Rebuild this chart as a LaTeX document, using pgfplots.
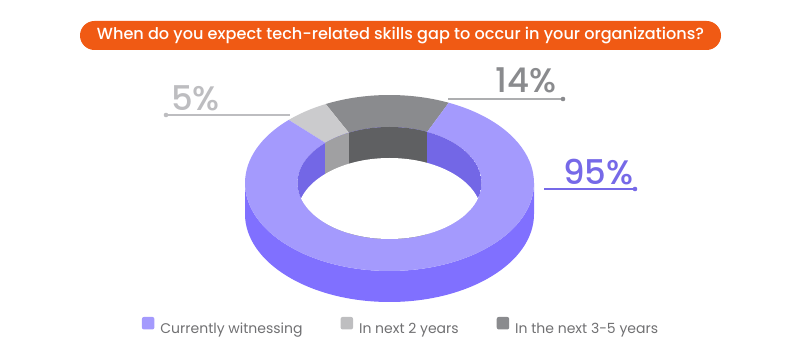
\documentclass[border=0pt]{standalone}
\usepackage{pgfplots}
\pgfplotsset{compat=1.18}
\usepackage{fontspec}
\setmainfont{Poppins}
\newfontfamily\pmed{Poppins Medium}
\definecolor{toppurple}{HTML}{A49AFD}
\definecolor{sidepurple}{HTML}{8070FF}
\definecolor{wallpurple}{HTML}{7367E6}
\definecolor{toplight}{HTML}{CBCBCD}
\definecolor{walllight}{HTML}{A0A0A2}
\definecolor{topdark}{HTML}{8A8B8E}
\definecolor{walldark}{HTML}{5F6062}
\definecolor{titleorange}{HTML}{F05A14}
\definecolor{legtext}{HTML}{707072}
\definecolor{leglight}{HTML}{BEBEC0}
\definecolor{lbpurple}{HTML}{7669E8}
\definecolor{lblight}{HTML}{BDBDC0}
\definecolor{lbdark}{HTML}{8A8B8E}

% chart values (percent, as labelled)
\def\vWitness{95}
\def\vTwo{5}
\def\vThreeFive{14}

% ring geometry (axis units = pt)
\def\Ra{144.5}\def\Rb{88}
\def\ra{92}\def\rb{56}
\def\cx{389.5}\def\cy{168}
\def\depth{31}

\newcommand\sector[3]{%
  \fill[#1] ([shift={(#2:\Ra pt and \Rb pt)}]axis cs:\cx,\cy)
    arc[start angle=#2,end angle=#3,x radius=\Ra pt,y radius=\Rb pt]
    -- ([shift={(#3:\ra pt and \rb pt)}]axis cs:\cx,\cy)
    arc[start angle=#3,end angle=#2,x radius=\ra pt,y radius=\rb pt] -- cycle;}

\begin{document}
\begin{tikzpicture}
\pgfmathsetmacro\aS{65.8}
\pgfmathsetmacro\aC{\aS+\vThreeFive*3.6}
\pgfmathsetmacro\aB{\aC+\vTwo*3.6}
\pgfmathsetmacro\aE{\aS+360}
\pgfmathsetmacro\xL{\cx+\ra*cos(\aB)}
\pgfmathsetmacro\xM{\cx+\ra*cos(\aC)}
\pgfmathsetmacro\xR{\cx+\ra*cos(\aS)}
\begin{axis}[
  x=1pt, y=1pt, xmin=0, xmax=801, ymin=0, ymax=351,
  hide axis, clip=false,
  legend image code/.code={\fill[#1,rounded corners=2pt] (0pt,-0.5pt) rectangle (12.5pt,12pt);},
  legend columns=3,
  legend style={at={(axis cs:400,25)}, anchor=center, draw=none, fill=none,
    font=\fontsize{14}{16}\selectfont, text=legtext,
    nodes={inner sep=0pt},
    /tikz/every odd column/.style={column sep=6pt},
    /tikz/every even column/.style={column sep=38pt}},
]
\path (axis cs:0,0) rectangle (axis cs:801,351);
\addlegendimage{fill=toppurple,draw=none}
\addlegendentry{Currently witnessing}
\addlegendimage{fill=leglight,draw=none}
\addlegendentry{In next 2 years}
\addlegendimage{fill=topdark,draw=none}
\addlegendentry{In the next 3-5 years}

% title
\node[fill=titleorange, rounded corners=14.5pt, minimum width=641pt, minimum height=29pt,
  inner sep=0pt, text=white, font=\pmed\fontsize{16.1}{18}\selectfont]
  at (axis cs:400.5,315.5) {When do you expect tech-related skills gap to occur in your organizations?};

% outer side
\fill[sidepurple] ([shift={(180:\Ra pt and \Rb pt)}]axis cs:\cx,\cy)
  arc[start angle=180,end angle=360,x radius=\Ra pt,y radius=\Rb pt]
  -- ++(0pt,-\depth pt)
  arc[start angle=360,end angle=180,x radius=\Ra pt,y radius=\Rb pt] -- cycle;

% top face
\sector{topdark}{\aS}{\aC}
\sector{toplight}{\aC}{\aB}
\sector{toppurple}{\aB}{\aE}

% inner wall
\begin{scope}
\clip (axis cs:\cx,\cy) ellipse[x radius=\ra pt, y radius=\rb pt];
\fill[wallpurple] (axis cs:\cx,\cy) ellipse[x radius=\ra pt, y radius=\rb pt];
\fill[walllight] (axis cs:\xL,100) rectangle (axis cs:\xM,240);
\fill[walldark] (axis cs:\xM,100) rectangle (axis cs:\xR,240);
\fill[white] (axis cs:\cx,\cy-\depth) ellipse[x radius=\ra pt, y radius=\rb pt];
\end{scope}

% labels
\draw[lblight, line width=1.3pt] (axis cs:166,236) -- (axis cs:290,236);
\fill[lblight] (axis cs:166,236) circle[radius=2.3pt];
\node[anchor=base west, inner sep=0pt, text=lblight, font=\pmed\fontsize{34}{36}\selectfont] at (axis cs:171,240) {\vTwo\%};

\draw[lbdark!70, line width=1.3pt] (axis cs:448,252) -- (axis cs:563,252);
\fill[lbdark] (axis cs:563,252) circle[radius=2.3pt];
\node[anchor=base west, inner sep=0pt, text=lbdark, font=\pmed\fontsize{34}{36}\selectfont] at (axis cs:495,258) {\vThreeFive\%};

\draw[lbpurple, line width=1.3pt] (axis cs:544,162) -- (axis cs:635,162);
\fill[lbpurple] (axis cs:635,162) circle[radius=2.3pt];
\node[anchor=base west, inner sep=0pt, text=lbpurple, font=\pmed\fontsize{34}{36}\selectfont] at (axis cs:563,166) {\vWitness\%};
\end{axis}
\end{tikzpicture}
\end{document}
